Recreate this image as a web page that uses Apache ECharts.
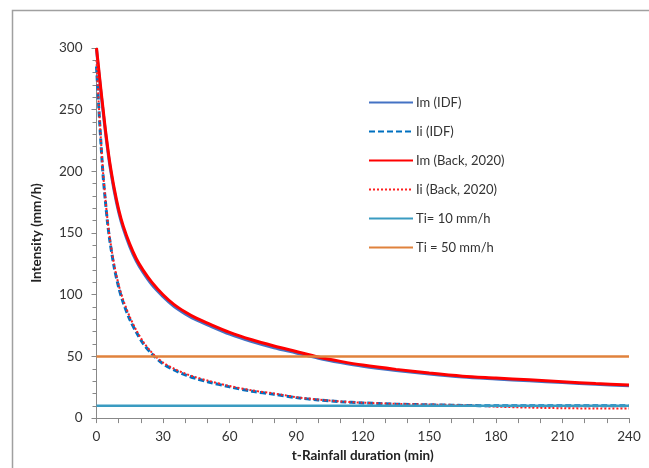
<!DOCTYPE html>
<html>
<head>
<meta charset="utf-8">
<script src="https://cdn.jsdelivr.net/npm/echarts@6/dist/echarts.min.js"></script>
<style>
html,body{margin:0;padding:0;background:#fff;}
#chart{width:649px;height:468px;}
</style>
</head>
<body>
<div id="chart"></div>
<script>
// Duration (min)
var durations = [0,1,2,3,4,5,6,8,10,12,15,18,21,25,30,35,40,45,50,60,70,80,90,100,110,120,135,150,165,180,195,210,225,240];
// Im (IDF)
var imIDF = [299,281,264,248,232,218,205,184,167,154,139,127,118,108,98.5,90.5,84.5,79.5,75.5,68,62,57,52.8,48.5,45,42,38.6,35.7,33.3,31.7,30.2,28.8,27.4,26.2];
// Ii (IDF)
var iiIDF = [285,253,223,196,176,158,144,122,106,94,80,69.5,60.5,52,44,39,35,32,29.5,25.3,21.8,19.3,16.6,14.7,13.3,12.3,11.3,10.8,10.3,10,10,10,10,10];
// Im (Back, 2020)
var imBack = [300,283,266,250,234,220,207,186,169,156,141,129,120,110,100,92,86,81,77,69.5,63.5,58.5,54,49.5,46,43,39.5,36.5,34,32.5,31,29.5,28,26.8];
// Ii (Back, 2020)
var iiBack = [290,255,225,198,178,160,146,124,108,96,82,71,62,53,45,40,36,33,30.5,26,22.5,20,17,15,13.5,12.5,11.5,11,10.5,9.3,8.5,8,7.8,7.7];
// Thresholds
var ti10 = [10,10];
var ti50 = [50,50];
var thresholdT = [0,240];
var seriesNames = ['Im (IDF)','Ii (IDF)','Im (Back, 2020)','Ii (Back, 2020)','Ti= 10 mm/h','Ti = 50 mm/h'];
var yTicks = [0,50,100,150,200,250,300];
var xTicks = [0,30,60,90,120,150,180,210,240];

function pairs(xs, ys){ return xs.map(function(x,i){ return [x, ys[i]]; }); }

var FONT = 'Lato, "Open Sans", sans-serif';
var chart = echarts.init(document.getElementById('chart'), null, {renderer:'canvas'});
chart.setOption({
  animation:false,
  backgroundColor:'#fff',
  textStyle:{fontFamily:FONT},
  graphic:[{
    type:'rect', left:10, top:8, shape:{x:0,y:0,width:700,height:600},
    style:{fill:'none', stroke:'#a0a0a0', lineWidth:1.5}, silent:true, z:-1
  }],
  grid:{left:96.5, right:20, top:48, bottom:49.5},
  legend:{
    orient:'vertical', left:363, top:91, itemWidth:44, itemHeight:14, itemGap:16,
    itemStyle:{opacity:0},
    textStyle:{fontFamily:FONT, fontSize:13, color:'#333', padding:[0,0,0,-2]},
    data:seriesNames
  },
  xAxis:{
    type:'value', min:xTicks[0], max:xTicks[xTicks.length-1], interval:30,
    name:'t-Rainfall duration (min)', nameLocation:'middle', nameGap:25,
    nameTextStyle:{fontFamily:FONT, fontWeight:'bold', fontSize:13.5, color:'#222'},
    axisLine:{show:true, lineStyle:{color:'#888', width:1}},
    axisTick:{show:true, length:5, lineStyle:{color:'#888'}},
    minorTick:{show:true, splitNumber:3, length:5, lineStyle:{color:'#888'}},
    splitLine:{show:false},
    axisLabel:{fontFamily:FONT, fontSize:13.5, color:'#333', margin:12}
  },
  yAxis:{
    type:'value', min:yTicks[0], max:yTicks[yTicks.length-1], interval:50,
    name:'Intensity (mm/h)', nameLocation:'middle', nameGap:53, nameRotate:90,
    nameTextStyle:{fontFamily:FONT, fontWeight:'bold', fontSize:13.5, color:'#222'},
    axisLine:{show:true, lineStyle:{color:'#888', width:1}},
    axisTick:{show:true, length:5, lineStyle:{color:'#888'}},
    minorTick:{show:true, splitNumber:5, length:4, lineStyle:{color:'#888'}},
    splitLine:{show:false},
    axisLabel:{fontFamily:FONT, fontSize:13.5, color:'#333', margin:14}
  },
  series:[
    {name:seriesNames[0], type:'line', data:pairs(durations, imIDF), showSymbol:false, symbol:'none', smooth:0.3,
     lineStyle:{color:'#4472C4', width:3}, itemStyle:{color:'#4472C4'}},
    {name:seriesNames[1], type:'line', data:pairs(durations, iiIDF), showSymbol:false, symbol:'none', smooth:0.3,
     lineStyle:{color:'#0070C0', width:3, type:[6,3]}, itemStyle:{color:'#0070C0'}},
    {name:seriesNames[2], type:'line', data:pairs(durations, imBack), showSymbol:false, symbol:'none', smooth:0.3,
     lineStyle:{color:'#FF0000', width:3}, itemStyle:{color:'#FF0000'}},
    {name:seriesNames[3], type:'line', data:pairs(durations, iiBack), showSymbol:false, symbol:'none', smooth:0.3,
     lineStyle:{color:'#FF2020', width:2, type:[2,2]}, itemStyle:{color:'#FF2020'}},
    {name:seriesNames[4], type:'line', data:pairs(thresholdT, ti10), showSymbol:false, symbol:'none',
     lineStyle:{color:'#3A9BC1', width:2.5}, itemStyle:{color:'#3A9BC1'}},
    {name:seriesNames[5], type:'line', data:pairs(thresholdT, ti50), showSymbol:false, symbol:'none',
     lineStyle:{color:'#E0823C', width:2.5}, itemStyle:{color:'#E0823C'}}
  ]
});
</script>
</body>
</html>
